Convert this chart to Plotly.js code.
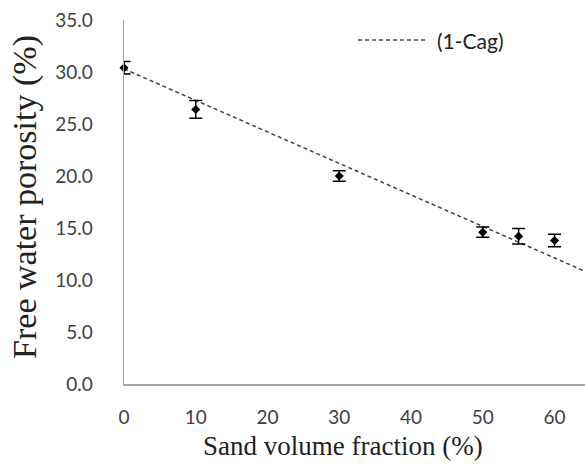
<!DOCTYPE html>
<html><head><meta charset="utf-8">
<script src="https://cdn.plot.ly/plotly-3.0.1.min.js"></script>
<style>html,body{margin:0;padding:0;background:#fff}#chart{width:585px;height:468px}</style>
</head><body><div id="chart"></div>
<script>
var sandFraction = [0, 10, 30, 50, 55, 60];
var porosity = [30.4, 26.4, 20.0, 14.6, 14.2, 13.8];
var porosityErr = [0.6, 0.85, 0.5, 0.5, 0.75, 0.6];
var modelX = [0, 64.2];
var modelY = [30.3, 10.85];
var yTicks = [0, 5, 10, 15, 20, 25, 30, 35];
var yTickText = ['0.0','5.0','10.0','15.0','20.0','25.0','30.0','35.0'];
var xTicks = [0, 10, 20, 30, 40, 50, 60];

var serif = '"Liberation Serif", "Times New Roman", serif';
var sans = 'Lato, sans-serif';
var data = [
  {x: modelX, y: modelY, mode: 'lines', name: '(1-Cag)', showlegend: false,
   line: {color: '#444', width: 1.5, dash: '4px,3px'}, hoverinfo: 'skip'},
  {x: sandFraction, y: porosity, mode: 'markers', showlegend: false, cliponaxis: false,
   marker: {symbol: 'diamond', size: 7, color: '#000'},
   error_y: {type: 'data', array: porosityErr, visible: true, color: '#000', thickness: 1.5, width: 6.5}}
];
var layout = {
  width: 585, height: 468,
  margin: {l: 124, r: 0, t: 20, b: 83.5},
  paper_bgcolor: '#fff', plot_bgcolor: '#fff',
  showlegend: false,
  xaxis: {range: [0, 64.25], tickvals: xTicks, showgrid: false, zeroline: false,
          showline: true, linecolor: '#a6a6a6', linewidth: 1.5,
          ticks: '', ticklabelstandoff: 16,
          tickfont: {family: sans, size: 19, color: '#404040'}},
  yaxis: {range: [0, 35], tickvals: yTicks, ticktext: yTickText, showgrid: false, zeroline: false,
          showline: true, linecolor: '#a6a6a6', linewidth: 1.5,
          ticks: '', ticklabelstandoff: 26,
          tickfont: {family: sans, size: 19, color: '#404040'}},
  shapes: [
    {type: 'line', xref: 'paper', yref: 'paper', x0: 0.5076, x1: 0.6594, y0: 0.945, y1: 0.945,
     line: {color: '#444', width: 1.5, dash: '4px,3px'}}
  ],
  annotations: [
    {text: '(1-Cag)', xref: 'paper', yref: 'paper', x: 0.6746, y: 0.945, xanchor: 'left', yanchor: 'middle',
     showarrow: false, font: {family: sans, size: 21, color: '#222'}},
    {text: 'Sand volume fraction (%)', xref: 'paper', yref: 'paper', x: 0.475, y: -0.1715,
     xanchor: 'center', yanchor: 'middle', showarrow: false, font: {family: serif, size: 27, color: '#222'}},
    {text: 'Free water porosity (%)', xref: 'paper', yref: 'paper', x: -0.2148, y: 0.514, textangle: -90,
     xanchor: 'center', yanchor: 'middle', showarrow: false, font: {family: serif, size: 34, color: '#222'}}
  ]
};
Plotly.newPlot('chart', data, layout, {staticPlot: true, displayModeBar: false});
</script></body></html>
